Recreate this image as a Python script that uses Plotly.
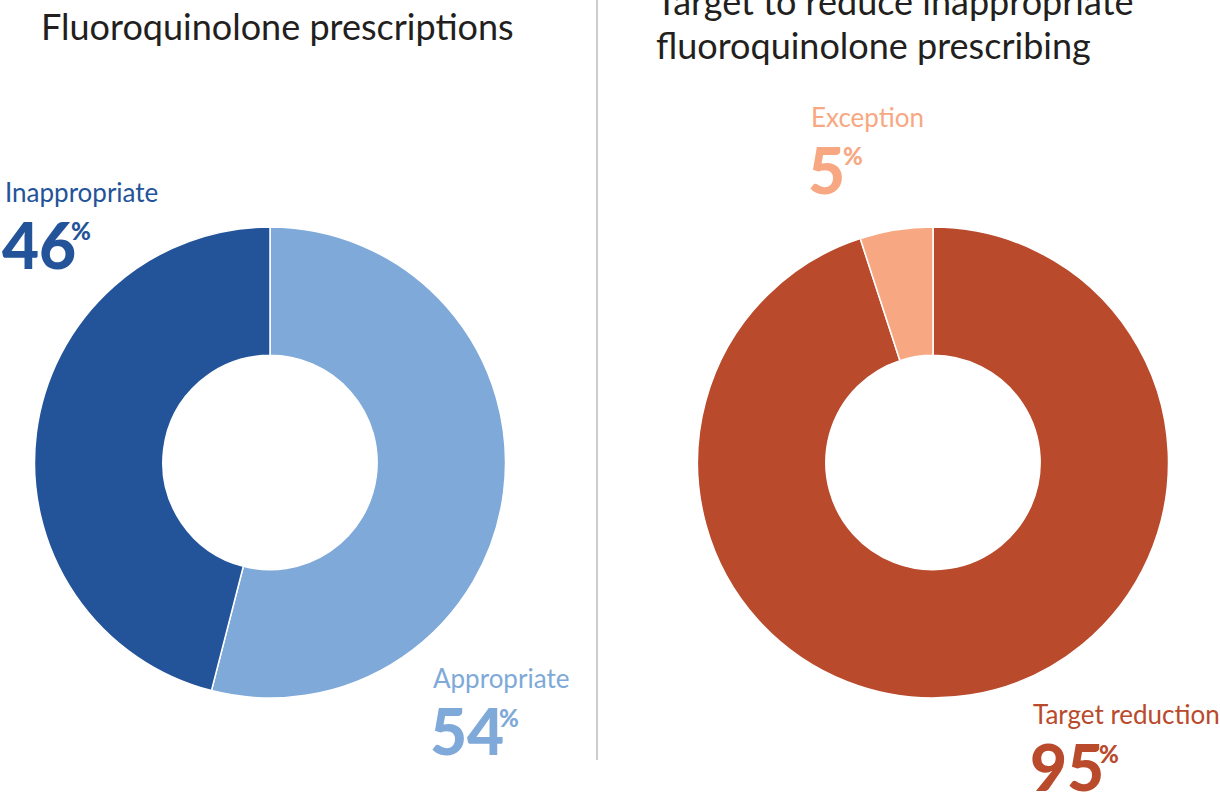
import plotly.graph_objects as go

W, H = 1220, 796

left_title = "Fluoroquinolone prescriptions"
right_title_lines = ["Target to reduce inappropriate", "fluoroquinolone prescribing"]

left_labels = ["Appropriate", "Inappropriate"]
left_values = [54, 46]
left_colors = ["#7EA9D8", "#235399"]

right_labels = ["Target reduction", "Exception"]
right_values = [95, 5]
right_colors = ["#B94A2C", "#F7A882"]

FONT = "Lato, 'Open Sans', sans-serif"


def px(x):
    return x / W


def py(y):
    return 1 - y / H


fig = go.Figure()

fig.add_trace(go.Pie(
    labels=left_labels, values=left_values, sort=False, direction="clockwise",
    rotation=0, hole=0.455, textinfo="none", showlegend=False,
    marker=dict(colors=left_colors, line=dict(color="white", width=1.5)),
    domain=dict(x=[px(34), px(506)], y=[py(698), py(227)]),
))
fig.add_trace(go.Pie(
    labels=right_labels, values=right_values, sort=False, direction="clockwise",
    rotation=0, hole=0.455, textinfo="none", showlegend=False,
    marker=dict(colors=right_colors, line=dict(color="white", width=1.5)),
    domain=dict(x=[px(697), px(1169)], y=[py(698), py(227)]),
))

ann = []


def text(x, y, s, size, color, weight="normal", anchor="left"):
    ann.append(dict(
        x=px(x), y=py(y), xref="paper", yref="paper", text=s, showarrow=False,
        xanchor=anchor, yanchor="middle", align="left",
        font=dict(family=FONT, size=size, color=color, weight=weight),
    ))


def label(x, y_label, name, value, color):
    text(x - 1, y_label, name, 26, color)
    text(x - 4, y_label + 52, str(value), 64, color, weight=900)
    nx = x - 4 + 34 * len(str(value)) + 1
    text(nx, y_label + 39, "%", 24, color, weight=900)


text(39, 26, left_title, 36, "#231F20")
text(654, 1, right_title_lines[0], 36, "#231F20")
text(654, 45, right_title_lines[1], 36, "#231F20")

label(4, 192, left_labels[1], left_values[1], left_colors[1])
label(432, 678, left_labels[0], left_values[0], left_colors[0])
label(810, 117, right_labels[1], right_values[1], right_colors[1])
label(1032, 714, right_labels[0], right_values[0], right_colors[0])

fig.update_layout(
    width=W, height=H, margin=dict(l=0, r=0, t=0, b=0),
    paper_bgcolor="white", plot_bgcolor="white",
    annotations=ann,
    shapes=[dict(type="line", xref="paper", yref="paper", x0=px(597), x1=px(597),
                 y0=py(0), y1=py(760), line=dict(color="#BBBBBB", width=1.5))],
)

fig.write_html(
    "out.html",
    config={"displayModeBar": False},
    post_script="document.body.style.margin='0px';document.body.style.overflow='hidden';",
)
